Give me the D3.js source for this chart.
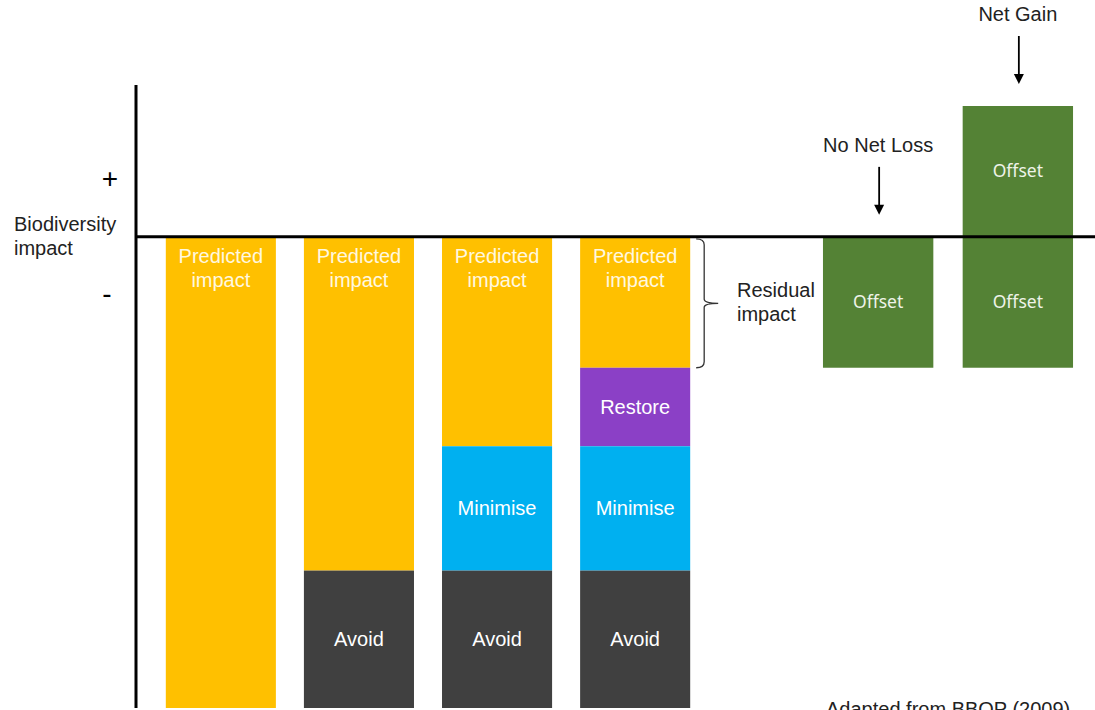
<!DOCTYPE html>
<html>
<head>
<meta charset="utf-8">
<script src="https://cdn.jsdelivr.net/npm/d3@7"></script>
<style>
  body { margin: 0; background: #fff; }
  svg { display: block; }
</style>
</head>
<body>
<svg id="chart"></svg>
<script>
// mitigation hierarchy columns (impact units, negative = loss)
const steps = ['Predicted', 'Avoid', 'Minimise', 'Restore'];
const residual = [-18, -12.75, -8, -5];
const restore = [0, 0, 0, -3];
const minimise = [0, 0, -4.75, -4.75];
const avoid = [0, -5.25, -5.25, -5.25];

// offset columns
const outcomes = ['No Net Loss', 'Net Gain'];
const offsetBelow = [-5, -5];
const offsetAbove = [0, 5];

const segLabels = { residual: 'Predicted impact', restore: 'Restore', minimise: 'Minimise', avoid: 'Avoid' };
const colors = { residual: '#ffc000', restore: '#8b40c6', minimise: '#00b0f0', avoid: '#404040', offset: '#548235' };

const W = 1095, H = 710;
const svg = d3.select('#chart').attr('width', W).attr('height', H);

const y = d3.scaleLinear().domain([-18, 5]).range([708, 106]);
const x1 = d3.scaleBand().domain(steps).range([152, 704]).paddingInner(0.203).paddingOuter(0.1);
const x2 = d3.scaleBand().domain(outcomes).range([809, 1087]).paddingInner(0.21).paddingOuter(0.1);

const rows = steps.map((s, i) => ({
  step: s, residual: residual[i], restore: restore[i], minimise: minimise[i], avoid: avoid[i]
}));
const keys = ['residual', 'restore', 'minimise', 'avoid'];
const series = d3.stack().keys(keys).offset(d3.stackOffsetDiverging)(rows);

const font = '"Liberation Sans", Arial, sans-serif';
const fs = 20;

// stacked bars
series.forEach(s => {
  const g = svg.append('g');
  s.forEach(d => {
    const top = Math.max(d[0], d[1]), bot = Math.min(d[0], d[1]);
    if (top === bot) return;
    const xx = x1(d.data.step);
    g.append('rect')
      .attr('x', xx).attr('y', y(top))
      .attr('width', x1.bandwidth()).attr('height', y(bot) - y(top))
      .attr('fill', colors[s.key]);
    if (s.key === 'residual') {
      const t = g.append('text')
        .attr('text-anchor', 'middle').attr('font-family', font).attr('font-size', fs)
        .attr('fill', '#fff8e0');
      ['Predicted', 'impact'].forEach((w, j) => {
        t.append('tspan').attr('x', xx + x1.bandwidth() / 2).attr('y', y(top) + 26 + j * 24).text(w);
      });
    } else {
      g.append('text')
        .attr('x', xx + x1.bandwidth() / 2).attr('y', (y(top) + y(bot)) / 2 + 7)
        .attr('text-anchor', 'middle').attr('font-family', font).attr('font-size', fs)
        .attr('fill', '#fff').text(segLabels[s.key]);
    }
  });
});

// offset bars
const offFont = '"Noto Sans", "Open Sans", sans-serif';
outcomes.forEach((o, i) => {
  [[0, offsetBelow[i]], [offsetAbove[i], 0]].forEach(([a, b]) => {
    if (a === b) return;
    svg.append('rect')
      .attr('x', x2(o)).attr('y', y(Math.max(a, b)))
      .attr('width', x2.bandwidth()).attr('height', y(Math.min(a, b)) - y(Math.max(a, b)))
      .attr('fill', colors.offset);
    svg.append('text')
      .attr('x', x2(o) + x2.bandwidth() / 2).attr('y', (y(a) + y(b)) / 2 + 6)
      .attr('text-anchor', 'middle').attr('font-family', offFont).attr('font-size', 17.5)
      .attr('fill', '#eef3e8').text('Offset');
  });
});

// axes lines
svg.append('line').attr('x1', 136).attr('x2', 136).attr('y1', 85).attr('y2', y(-18))
  .attr('stroke', '#000').attr('stroke-width', 3);
svg.append('line').attr('x1', 136).attr('x2', W).attr('y1', y(0)).attr('y2', y(0))
  .attr('stroke', '#000').attr('stroke-width', 3);

// axis labels
svg.append('text').attr('x', 110).attr('y', 188).attr('text-anchor', 'middle')
  .attr('font-family', font).attr('font-size', 28).text('+');
svg.append('text').attr('x', 107).attr('y', 303).attr('text-anchor', 'middle')
  .attr('font-family', font).attr('font-size', 28).text('-');
const bl = svg.append('text').attr('font-family', font).attr('font-size', fs).attr('fill', '#222');
['Biodiversity', 'impact'].forEach((w, j) => bl.append('tspan').attr('x', 14).attr('y', 231 + j * 24).text(w));

// residual brace
const bx = x1('Restore') + x1.bandwidth() + 14;
const yt = y(0) + 2, yb = y(residual[3]), ym = (yt + yb) / 2;
svg.append('path')
  .attr('d', `M${bx - 8},${yt} Q${bx},${yt} ${bx},${yt + 6} L${bx},${ym - 4} Q${bx},${ym} ${bx + 14},${ym}
              M${bx - 8},${yb} Q${bx},${yb} ${bx},${yb - 6} L${bx},${ym + 4} Q${bx},${ym} ${bx + 14},${ym}`)
  .attr('fill', 'none').attr('stroke', '#333').attr('stroke-width', 1.3);
const rl = svg.append('text').attr('font-family', font).attr('font-size', fs).attr('fill', '#222');
['Residual', 'impact'].forEach((w, j) => rl.append('tspan').attr('x', 737).attr('y', 297 + j * 24).text(w));

// outcome labels with arrows
const tops = outcomes.map((o, i) => y(Math.max(0, offsetAbove[i])));
outcomes.forEach((o, i) => {
  const cx = x2(o) + x2.bandwidth() / 2;
  const ay = tops[i] - 22;
  svg.append('line').attr('x1', cx + 1).attr('x2', cx + 1).attr('y1', ay - 48).attr('y2', ay - 8)
    .attr('stroke', '#000').attr('stroke-width', 1.8);
  svg.append('path').attr('d', `M${cx - 4},${ay - 10} L${cx + 6},${ay - 10} L${cx + 1},${ay} Z`).attr('fill', '#000');
  svg.append('text').attr('x', cx).attr('y', ay - 63).attr('text-anchor', 'middle')
    .attr('font-family', font).attr('font-size', fs).attr('fill', '#222').text(o);
});

// source (cut off at the bottom edge, as in the original)
svg.append('text').attr('x', 826).attr('y', 716).attr('font-family', font).attr('font-size', fs)
  .attr('fill', '#222').text('Adapted from BBOP (2009)');
</script>
</body>
</html>
